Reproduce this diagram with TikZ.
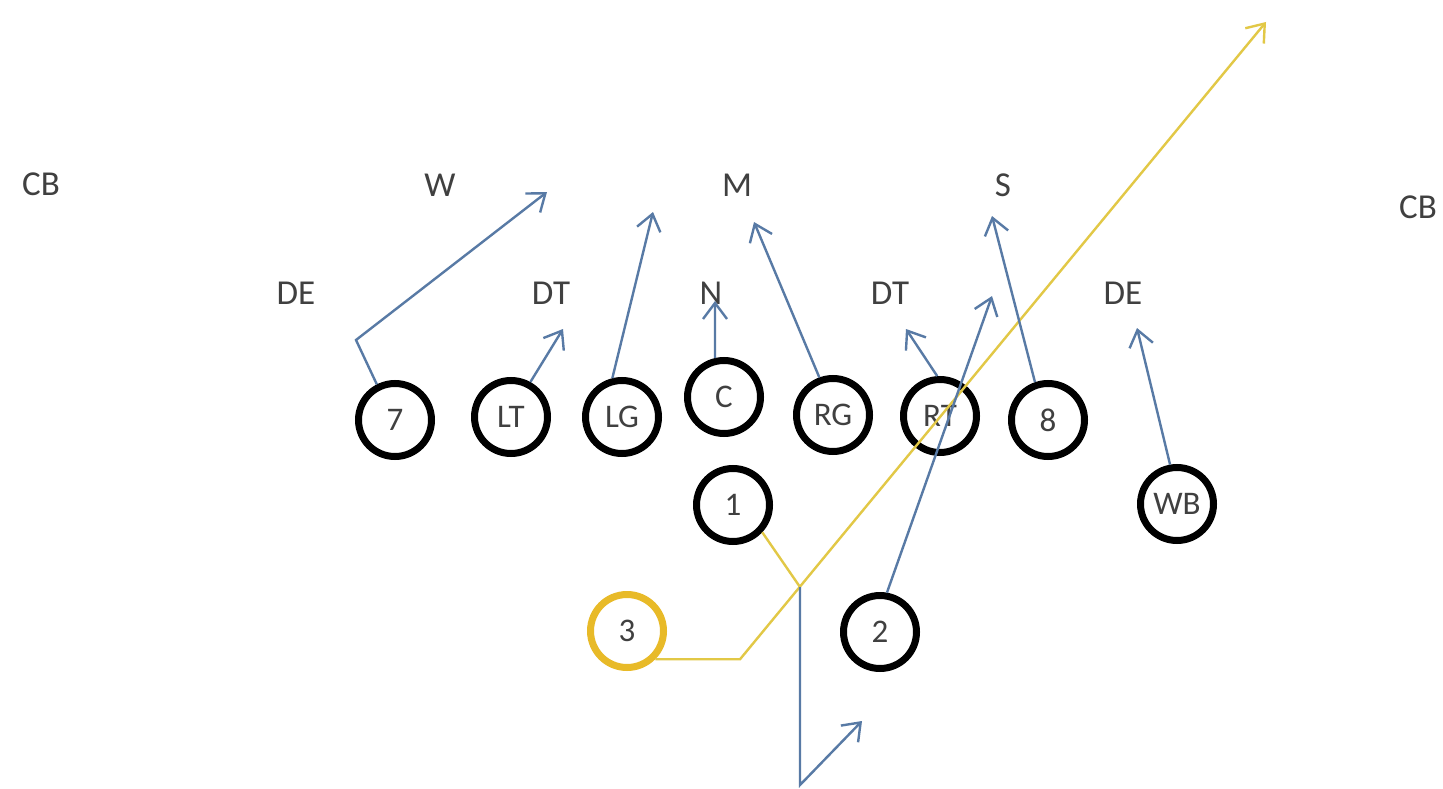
\documentclass[tikz,border=0pt]{standalone}
\usepackage{fontspec}
\setmainfont{Carlito}
\usetikzlibrary{arrows.meta}
\definecolor{txt}{RGB}{64,64,64}
\definecolor{route}{RGB}{88,122,165}
\definecolor{gold}{RGB}{232,186,40}
\definecolor{goldline}{RGB}{226,200,70}
\begin{document}
\begin{tikzpicture}[x=1pt,y=-1pt,
  lbl/.style={font=\fontsize{35}{38}\selectfont, text=txt, inner sep=0pt},
  player/.style={circle, draw=black, line width=7pt, minimum size=73pt, inner sep=0pt,
    font=\fontsize{33}{35}\selectfont, text=txt},
  qb/.style={player, draw=gold},
  rt/.style={draw=route, line width=2.4pt, -{Straight Barb[length=16pt,width=24pt,line width=2.4pt]}},
  yl/.style={draw=goldline, line width=2.4pt}
]
\fill[white] (0,0) rectangle (1443,789);
\useasboundingbox (0,0) rectangle (1443,789);

% defense labels
\node[lbl] (cbl) at (41,184) {CB};
\node[lbl] (w) at (440,185) {W};
\node[lbl] (m) at (737,185) {M};
\node[lbl] (s) at (1003,185) {S};
\node[lbl] (cbr) at (1418,207) {CB};
\node[lbl] (del) at (296,293) {DE};
\node[lbl] (dtl) at (551,293) {DT};
\node[lbl] (n) at (711,293) {N};
\node[lbl] (dtr) at (890,293) {DT};
\node[lbl] (der) at (1123,293) {DE};

% offense
\node[player] (p7) at (395,420) {7};
\node[player] (lt) at (511,417) {LT};
\node[player] (lg) at (622,417) {LG};
\node[player] (c) at (724,397) {C};
\node[player] (rg) at (833,415) {RG};
\node[player] (rtk) at (940,416) {RT};
\node[player] (p8) at (1048,420) {8};
\node[player] (p1) at (733,505) {1};
\node[player] (wb) at (1177,504) {WB};
\node[player] (p2) at (880,632) {2};
\node[qb] (p3) at (627,631) {3};

% route endpoints
\coordinate (e7a) at (356,340);
\coordinate (e7) at (547,192);
\coordinate (elt) at (563,329);
\coordinate (elg) at (653,212);
\coordinate (ec) at (715,301);
\coordinate (erg) at (754,222);
\coordinate (ert) at (906,329);
\coordinate (e8) at (992,216);
\coordinate (e2) at (992,296);
\coordinate (ewb) at (1137,328);
\coordinate (y1) at (740,658);
\coordinate (ytip) at (1266,22);
\coordinate (j) at (800,587);
\coordinate (b1) at (800,785);
\coordinate (b2) at (862,721);

% yellow routes
\draw[yl, -{Straight Barb[length=16pt,width=24pt,line width=2.4pt]}] (p3.-45) -- (p3.-45 -| y1) -- (ytip);
\draw[yl] (p1.-43) -- (j);

% blue routes
\draw[rt] (p7.117) -- (e7a) -- (e7);
\draw[rt] (lt.61) -- (elt);
\draw[rt] (lg.104) -- (elg);
\draw[rt] (c.103) -- (ec);
\draw[rt] (rg.110) -- (erg);
\draw[rt] (rtk.94) -- (ert);
\draw[rt] (p8.109) -- (e8);
\draw[rt] (p2.80) -- (e2);
\draw[rt] (wb.100) -- (ewb);
\draw[rt] (j) -- (b1) -- (b2);
\end{tikzpicture}
\end{document}
